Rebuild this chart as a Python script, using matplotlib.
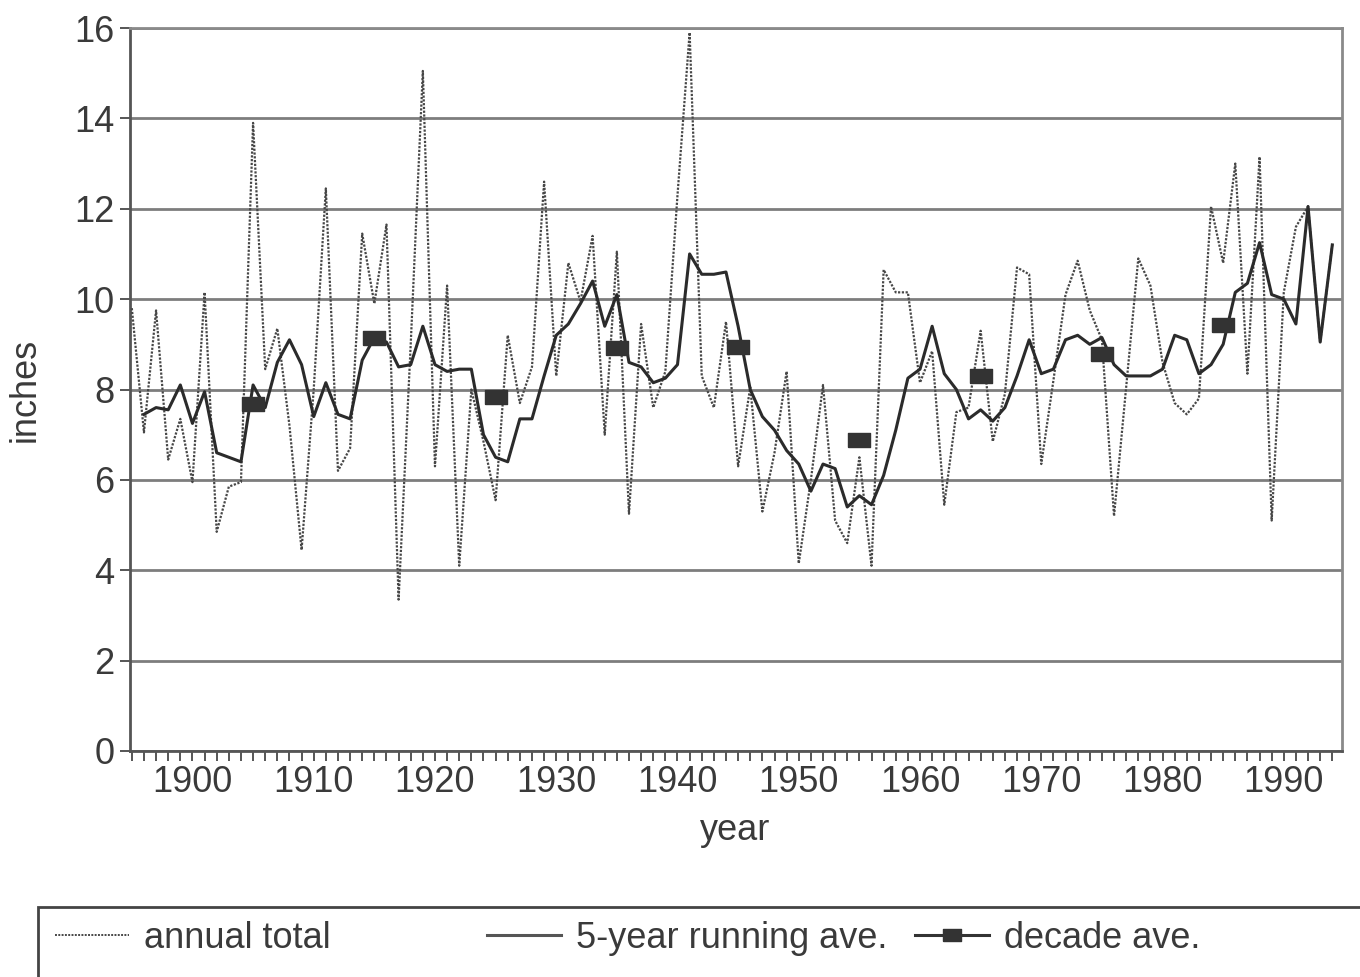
import matplotlib
matplotlib.use("Agg")
import matplotlib.pyplot as plt
from matplotlib.lines import Line2D
from matplotlib.patches import Rectangle
from matplotlib.ticker import MultipleLocator

plt.rcParams['font.family'] = ['Liberation Sans', 'DejaVu Sans']

# annual rainfall totals, 1895-1994 (inches)
annual_years = list(range(1895, 1995))
annual_total = [
    9.8, 7.05, 9.75, 6.45, 7.35,
    5.95, 10.15, 4.85, 5.85, 5.95, 13.9, 8.45, 9.35, 7.2, 4.45,
    8.0, 12.45, 6.2, 6.7, 11.45, 9.9, 11.65, 3.35, 9.0, 15.05,
    6.3, 10.3, 4.1, 8.0, 6.85, 5.55, 9.2, 7.7, 8.5, 12.6,
    8.3, 10.8, 9.95, 11.4, 7.0, 11.05, 5.25, 9.45, 7.6, 8.4,
    12.3, 15.9, 8.3, 7.6, 9.5, 6.3, 8.05, 5.3, 6.6, 8.4,
    4.15, 6.0, 8.1, 5.1, 4.6, 6.5, 4.1, 10.65, 10.15, 10.15,
    8.15, 8.85, 5.45, 7.5, 7.6, 9.3, 6.85, 7.9, 10.7, 10.55,
    6.35, 8.2, 10.1, 10.85, 9.75, 9.1, 5.2, 8.05, 10.9, 10.3,
    8.6, 7.7, 7.45, 7.8, 12.05, 10.8, 13.0, 8.35, 13.15, 5.1,
    10.15, 11.6, 12.05, 9.05, 11.2,
]

# 5-year running average, 1896-1994
running_years = list(range(1896, 1995))
running_ave = [
    7.45, 7.6, 7.55, 8.1,
    7.25, 7.95, 6.6, 6.5, 6.4, 8.1, 7.6, 8.6, 9.1, 8.55,
    7.4, 8.15, 7.45, 7.35, 8.65, 9.15, 9.05, 8.5, 8.55, 9.4,
    8.55, 8.4, 8.45, 8.45, 7.0, 6.5, 6.4, 7.35, 7.35, 8.3,
    9.2, 9.45, 9.9, 10.4, 9.4, 10.1, 8.6, 8.5, 8.15, 8.25,
    8.55, 11.0, 10.55, 10.55, 10.6, 9.4, 8.0, 7.4, 7.1, 6.65,
    6.35, 5.75, 6.35, 6.25, 5.4, 5.65, 5.45, 6.1, 7.1, 8.25,
    8.45, 9.4, 8.35, 8.0, 7.35, 7.55, 7.3, 7.6, 8.3, 9.1,
    8.35, 8.45, 9.1, 9.2, 9.0, 9.15, 8.55, 8.3, 8.3, 8.3,
    8.45, 9.2, 9.1, 8.35, 8.55, 9.0, 10.15, 10.35, 11.25, 10.1,
    10.0, 9.45, 12.05, 9.05, 11.2,
]

# decade averages, plotted at mid-decade
decade_years = [1905, 1915, 1925, 1935, 1945, 1955, 1965, 1975, 1985]
decade_ave = [7.67, 9.14, 7.84, 8.91, 8.94, 6.89, 8.3, 8.78, 9.42]

grey_text = '#3a3a3a'
fs = 26

rect_marker = [(-1, -0.64), (1, -0.64), (1, 0.64), (-1, 0.64), (-1, -0.64)]

fig = plt.figure(figsize=(13.6, 9.77), dpi=100)
ax = fig.add_axes([130 / 1360, 1 - 751 / 977, 1212 / 1360, 723 / 977])

ax.plot(annual_years, annual_total, color='#474747', lw=1.6,
        linestyle=(0, (1, 0.7)), zorder=3)
ax.plot(running_years, running_ave, color='#2b2b2b', lw=2.2, zorder=4)
ax.plot(decade_years, decade_ave, linestyle='none', marker=rect_marker,
        markersize=16, color='#333333', zorder=5)

ax.set_xlim(1894.85, 1994.8)
ax.set_ylim(0, 16)
ax.xaxis.set_minor_locator(MultipleLocator(1))
ax.yaxis.set_major_locator(MultipleLocator(2))
ax.set_xticks(range(1900, 1991, 10))

ax.yaxis.grid(True, color='#7d7d7d', lw=2)
ax.set_axisbelow(True)

ax.tick_params(axis='x', which='both', direction='out', length=7, width=1.4,
               color='#555555', labelsize=fs, labelcolor=grey_text, pad=3)
ax.tick_params(axis='y', direction='out', length=7, width=1.4,
               color='#555555', labelsize=fs, labelcolor=grey_text, pad=4)

for side in ['left', 'bottom']:
    ax.spines[side].set_color('#555555')
    ax.spines[side].set_linewidth(2)
for side in ['right', 'top']:
    ax.spines[side].set_color('#8a8a8a')
    ax.spines[side].set_linewidth(2)

fig.text(25 / 1360, 1 - 390 / 977, 'inches', rotation=90, ha='center',
         va='center', fontsize=fs, color=grey_text)
fig.text(735 / 1360, 1 - 830 / 977, 'year', ha='center', va='center',
         fontsize=fs, color=grey_text)

# legend box along the bottom, running off the right edge
fig.add_artist(Rectangle((38 / 1360, -0.1), 1.0, 0.1 + 1 - 907 / 977,
                         transform=fig.transFigure, fill=False,
                         ec='#444444', lw=2))

handles = [
    Line2D([], [], color='#474747', lw=1.4, linestyle=(0, (1, 0.7))),
    Line2D([], [], color='#555555', lw=2.2),
    Line2D([], [], color='#333333', lw=2.2, marker=rect_marker, markersize=13),
]
labels = ['annual total', '5-year running ave.', 'decade ave.']
starts = [55, 487, 915]
for h, lab, x0 in zip(handles, labels, starts):
    fig.legend([h], [lab], loc='center left',
               bbox_to_anchor=(x0 / 1360, 1 - 938 / 977),
               frameon=False, fontsize=fs, handlelength=2.05,
               handletextpad=0.42, borderpad=0, borderaxespad=0,
               labelcolor=grey_text)

fig.savefig('out.png', dpi=100)
